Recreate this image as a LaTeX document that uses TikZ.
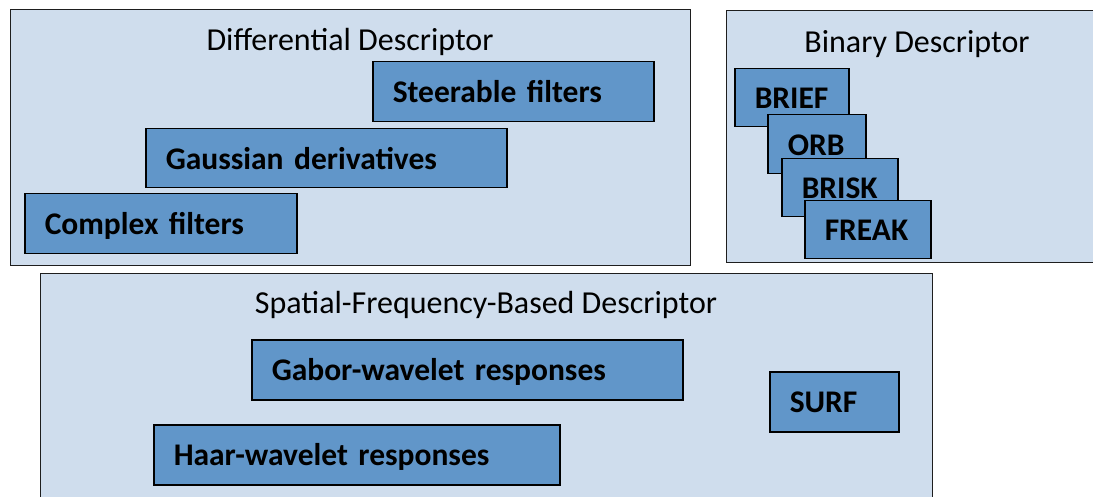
\documentclass[tikz,border=0pt]{standalone}
\usepackage{fontspec}
\setmainfont{Carlito}
\definecolor{lightbg}{RGB}{207,221,237}
\definecolor{darkbox}{RGB}{97,150,201}
\definecolor{framegray}{RGB}{30,30,30}
\tikzset{
  group/.style={draw=framegray, line width=1.4pt, fill=lightbg, anchor=north west, inner sep=0pt},
  grouptitle/.style={font=\fontsize{32}{36}\selectfont, inner sep=0pt},
  item/.style={draw=black, line width=1.5pt, fill=darkbox, anchor=north west, inner xsep=20pt, inner ysep=0pt, text height=22pt, text depth=0pt, align=left, font=\fontsize{31.5}{36}\selectfont\bfseries},
}
\begin{document}
\begin{tikzpicture}[x=1pt,y=-1pt]
\useasboundingbox (0,0) rectangle (1093,497);
% groups
\node[group, minimum width=680pt, minimum height=256pt] (diff) at (10,9) {};
\node[group, minimum width=380pt, minimum height=252pt] (bin) at (726,10) {};
\node[group, minimum width=892pt, minimum height=240pt] (spat) at (40,273) {};
\node[grouptitle] (difft) at (350,42) {Differential Descriptor};
\node[grouptitle] (bint) at (917,44) {Binary Descriptor};
\node[grouptitle] (spatt) at (486,305) {Spatial-Frequency-Based Descriptor};
% differential
\node[item, text width=241pt, minimum height=60pt] (steer) at (372,61) {Steerable filters};
\node[item, text width=321pt, minimum height=59pt] (gauss) at (145,128) {Gaussian derivatives};
\node[item, text width=232pt, minimum height=60pt] (complex) at (24,193) {Complex filters};
% binary
\node[item, text width=74pt, minimum height=58pt] (brief) at (734,68) {BRIEF};
\node[item, text width=58pt, minimum height=59pt] (orb) at (767,114) {ORB};
\node[item, text width=76pt, minimum height=58pt] (brisk) at (781,158) {BRISK};
\node[item, text width=86pt, minimum height=58pt] (freak) at (804,200) {FREAK};
% spatial
\node[item, text width=391pt, minimum height=60pt] (gabor) at (251,339) {Gabor-wavelet responses};
\node[item, text width=366pt, minimum height=60pt] (haar) at (153,424) {Haar-wavelet responses};
\node[item, text width=89pt, minimum height=60pt] (surf) at (769,371) {SURF};
\end{tikzpicture}
\end{document}
